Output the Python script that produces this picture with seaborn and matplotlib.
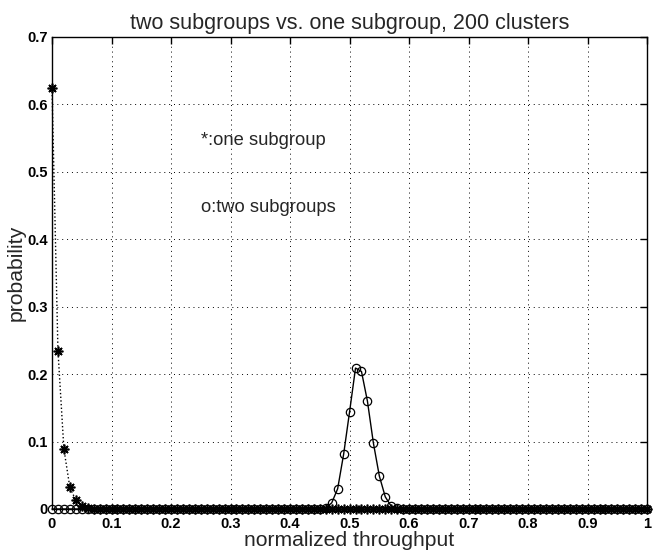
import numpy as np
import pandas as pd
import matplotlib
matplotlib.use("Agg")
import matplotlib.pyplot as plt
import seaborn as sns

# ---- data ----
throughput = [round(i / 100, 2) for i in range(101)]  # 0.00 .. 1.00 in steps of 0.01

one_subgroup = [0.625, 0.235, 0.089, 0.032, 0.013, 0.004, 0.0015] + [0.0] * 94

two_subgroups = ([0.0] * 46 +
                 [0.002, 0.009, 0.030, 0.081, 0.144, 0.209, 0.204,
                  0.160, 0.098, 0.049, 0.018, 0.004, 0.001] +
                 [0.0] * 42)

x_ticks = [0, 0.1, 0.2, 0.3, 0.4, 0.5, 0.6, 0.7, 0.8, 0.9, 1]
x_tick_labels = ["0", "0.1", "0.2", "0.3", "0.4", "0.5", "0.6", "0.7", "0.8", "0.9", "1"]
y_ticks = [0, 0.1, 0.2, 0.3, 0.4, 0.5, 0.6, 0.7]
y_tick_labels = ["0", "0.1", "0.2", "0.3", "0.4", "0.5", "0.6", "0.7"]

title = "two subgroups vs. one subgroup, 200 clusters"
xlabel = "normalized throughput"
ylabel = "probability"
note_one = "*:one subgroup"
note_two = "o:two subgroups"

df = pd.DataFrame({"throughput": throughput,
                   "one": one_subgroup,
                   "two": two_subgroups})

sns.set_style("white")
plt.rcParams["font.family"] = ["Liberation Sans", "DejaVu Sans"]

fig = plt.figure(figsize=(6.54, 5.53), dpi=100)
ax = fig.add_axes([0.0795, 0.0796, 0.910, 0.8535])

sns.lineplot(data=df, x="throughput", y="two", ax=ax, color="black",
             linestyle="-", linewidth=1.0, marker="o", markersize=6,
             markerfacecolor="none", markeredgecolor="black",
             markeredgewidth=0.9, clip_on=False, zorder=3)
sns.lineplot(data=df, x="throughput", y="one", ax=ax, color="black",
             linestyle=":", linewidth=1.0, marker=(8, 2, 0), markersize=7,
             markeredgecolor="black", markeredgewidth=1.2,
             clip_on=False, zorder=4)

ax.set_xlim(0, 1)
ax.set_ylim(0, 0.7)
ax.set_xticks(x_ticks)
ax.set_xticklabels(x_tick_labels)
ax.set_yticks(y_ticks)
ax.set_yticklabels(y_tick_labels)

ax.grid(True, color="black", linestyle=(0, (1, 4)), linewidth=0.7)
ax.tick_params(direction="in", length=5, width=1, top=True, right=True,
               labelsize=10.5, colors="black")
ax.tick_params(axis="x", pad=6)
ax.tick_params(axis="y", pad=3)
for lbl in ax.get_xticklabels() + ax.get_yticklabels():
    lbl.set_fontweight("bold")
for s in ax.spines.values():
    s.set_color("black")
    s.set_linewidth(1.0)

ax.set_title(title, fontsize=15.5, pad=6)
ax.set_xlabel(xlabel, fontsize=15.2, labelpad=0)
ax.set_ylabel(ylabel, fontsize=15.2, labelpad=1)

ax.text(0.25, 0.547, note_one, fontsize=13.2, va="center", ha="left")
ax.text(0.25, 0.447, note_two, fontsize=13.2, va="center", ha="left")

fig.savefig("out.png", dpi=100)
